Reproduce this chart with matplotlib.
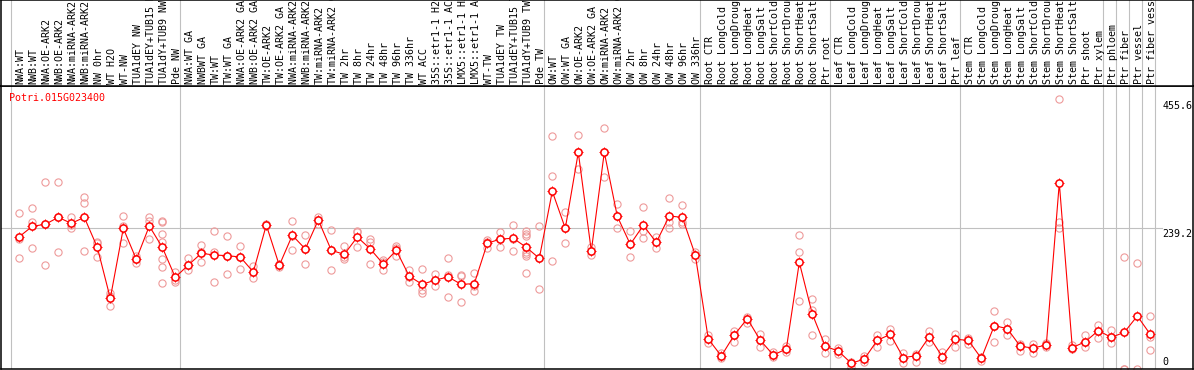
import matplotlib
matplotlib.use("Agg")
import matplotlib.pyplot as plt


# ---- data ----
gene = "Potri.015G023400"

labels = [
    "NWA:WT", "NWB:WT", "NWA:OE-ARK2", "NWB:OE-ARK2", "NWA:miRNA-ARK2",
    "NWB:miRNA-ARK2", "NW 0hr", "WT H2O", "WT-NW", "TUA1dEY NW",
    "TUA1dEY+TUB15 NW", "TUA1dY+TUB9 NW", "Pde NW",
    "NWA:WT GA", "NWBWT GA", "TW:WT", "TW:WT GA", "NWA:OE-ARK2 GA",
    "NWB:OE-ARK2 GA", "TW:OE-ARK2", "TW:OE-ARK2 GA", "NWA:miRNA-ARK2 GA",
    "NWB:miRNA-ARK2 GA", "TW:miRNA-ARK2", "TW:miRNA-ARK2 GA", "TW 2hr",
    "TW 8hr", "TW 24hr", "TW 48hr", "TW 96hr", "TW 336hr", "WT ACC",
    "35S::etr1-1 H2O", "35S::etr1-1 ACC", "LMX5::etr1-1 H2O",
    "LMX5::etr1-1 ACC", "WT-TW", "TUA1dEY TW", "TUA1dEY+TUB15 TW",
    "TUA1dY+TUB9 TW", "Pde TW",
    "OW:WT", "OW:WT GA", "OW:OE-ARK2", "OW:OE-ARK2 GA", "OW:miRNA-ARK2",
    "OW:miRNA-ARK2 GA", "OW 2hr", "OW 8hr", "OW 24hr", "OW 48hr", "OW 96hr",
    "OW 336hr",
    "Root CTR", "Root LongCold", "Root LongDrought", "Root LongHeat",
    "Root LongSalt", "Root ShortCold", "Root ShortDrought", "Root ShortHeat",
    "Root ShortSalt", "Ptr root",
    "Leaf CTR", "Leaf LongCold", "Leaf LongDrought", "Leaf LongHeat",
    "Leaf LongSalt", "Leaf ShortCold", "Leaf ShortDrought", "Leaf ShortHeat",
    "Leaf ShortSalt", "Ptr leaf",
    "Stem CTR", "Stem LongCold", "Stem LongDrought", "Stem LongHeat",
    "Stem LongSalt", "Stem ShortCold", "Stem ShortDrought", "Stem ShortHeat",
    "Stem ShortSalt", "Ptr shoot", "Ptr xylem",
    "Ptr phloem", "Ptr fiber", "Ptr vessel", "Ptr fiber vessel",
]

means = [
    223.7, 241.2, 244.6, 256.4, 246.2, 256.4, 205.7, 119.5, 237.8, 185.4,
    241.7, 205.7, 155.0, 175.8, 195.5, 192.7, 191.6, 189.3, 164.0, 243.4,
    175.2, 226.0, 202.9, 251.9, 200.6, 193.8, 223.1, 202.9, 177.5, 200.6,
    156.7, 143.1, 150.5, 155.5, 143.1, 144.3, 212.4, 219.8, 220.9, 205.7,
    187.1, 300.3, 237.8, 366.3, 199.5, 366.3, 258.1, 210.7, 242.9, 214.1,
    258.6, 256.4, 192.7, 50.7, 22.0, 57.5, 85.1, 48.5, 23.7, 33.8,
    180.3, 93.0, 38.3, 30.4, 9.6, 16.9, 48.5, 58.6, 19.2, 22.5,
    54.7, 20.8, 50.2, 48.5, 18.0, 73.3, 68.2, 38.3, 35.5, 40.6,
    314.5, 36.1, 46.2, 64.8, 53.5, 62.0, 89.6, 58.6,
]

replicates = [
    [263.2, 219.8, 187.1], [271.6, 247.9, 204.0], [316.7, 244.6, 175.2],
    [315.6, 256.4, 197.2], [257.0, 243.4, 238.9], [290.8, 280.1, 198.9],
    [215.3, 212.5, 189.3], [127.9, 124.0, 106.5], [258.7, 242.3, 212.4],
    [191.6, 186.0, 178.6], [257.0, 250.2, 219.8],
    [250.2, 247.9, 227.7, 214.1, 186.0, 171.9, 144.8],
    [164.5, 150.5, 147.6], [188.2, 175.8, 167.4], [209.6, 198.4, 180.3],
    [233.3, 198.4, 146.5], [224.3, 191.6, 160.0], [207.4, 189.3, 168.5],
    [174.1, 164.5, 153.3], [244.6, 243.4, 241.2], [176.9, 175.2, 173.0],
    [250.2, 225.4, 201.2], [226.5, 202.9, 176.9], [257.5, 251.9, 244.6],
    [234.4, 200.6, 166.8], [207.4, 189.9, 186.0], [233.3, 231.0, 206.8],
    [219.8, 214.1, 176.9], [184.3, 181.4, 167.9], [207.4, 204.0, 191.6],
    [167.4, 156.1, 146.5], [169.1, 133.6, 127.9], [160.0, 150.5, 139.7],
    [187.6, 158.9, 121.7], [158.9, 156.7, 112.7], [161.7, 139.7, 132.4],
    [218.1, 215.3, 205.1], [231.6, 219.8, 206.8], [243.4, 219.2, 200.0],
    [233.9, 228.2, 224.8, 198.4, 194.4, 191.0, 161.7],
    [241.7, 187.1, 134.7], [393.3, 325.7, 182.0], [266.0, 237.8, 212.4],
    [394.8, 366.3, 337.5], [206.8, 200.0, 192.7], [406.8, 366.3, 324.0],
    [278.4, 258.1, 237.8], [233.3, 210.7, 188.8], [273.3, 233.3, 222.0],
    [223.7, 214.1, 205.1], [288.5, 247.9, 238.9], [277.2, 247.9, 244.6],
    [198.4, 192.7, 186.0], [57.5, 50.7, 43.4], [26.5, 22.0, 19.2],
    [64.2, 57.5, 46.2], [87.3, 84.0, 77.2], [58.6, 48.5, 37.2],
    [29.3, 23.7, 20.8], [39.4, 33.8, 28.2], [226.0, 197.2, 115.0],
    [117.8, 99.7, 57.5], [50.7, 38.3, 26.5], [34.9, 30.4, 25.9],
    [12.4, 9.6, 3.9], [22.5, 16.9, 12.4], [57.5, 48.5, 37.2],
    [67.6, 58.6, 47.3], [27.0, 19.2, 10.1], [25.9, 22.5, 11.3],
    [64.2, 54.7, 46.2], [29.3, 20.8, 14.7], [59.7, 50.2, 37.8],
    [51.8, 48.5, 42.8], [20.8, 18.0, 14.1], [97.5, 73.3, 45.1],
    [78.9, 68.2, 57.5], [41.7, 38.3, 30.4], [42.8, 35.5, 27.6],
    [44.0, 41.7, 37.2], [455.6, 249.1, 238.9], [40.6, 36.1, 33.8],
    [57.5, 46.2, 37.8], [74.4, 64.8, 51.8], [65.9, 53.5, 44.5],
    [188.8, 0.0, 0.0], [178.6, 0.0], [89.6, 54.7, 31.6],
]

# first column of every tissue / experiment block
group_starts = [0, 13, 41, 53, 63, 73, 84, 85, 86, 87]
ytick_vals = [0, 239.2, 455.6]
ytick_text = ["0", "239.2", "455.6"]
y_top = 478.4

# ---- layout (pixel based) ----
W, H = 1194, 370
MONO = "DejaVu Sans Mono"
FS = 7.2
GRID = "#c0c0c0"
RED = "#ff0000"
PINK = "#ee9a9a"


def px_box(x0, y0, x1, y1):
    return [x0 / W, 1 - y1 / H, (x1 - x0) / W, (y1 - y0) / H]


fig = plt.figure(figsize=(W / 100, H / 100), dpi=100)
ax = fig.add_axes(px_box(1, 86, 1193, 369))
lab = fig.add_axes(px_box(1, 0, 1193, 86))

x0_px, step_px = 19.3, 13.0
xlim = (-(x0_px - 1) / step_px, (1193 - x0_px) / step_px)

for a in (ax, lab):
    a.set_xlim(*xlim)
    a.set_xticks([])
    a.set_yticks([])
    for sp in a.spines.values():
        sp.set_linewidth(1.1)
        sp.set_color("black")

ax.set_ylim(0, y_top)
lab.set_ylim(0, 1)

# group separators
seps = [s - 0.64 for s in group_starts] + [len(labels) - 1 + 0.36]
for xs in seps:
    ax.axvline(xs, color=GRID, lw=0.8, zorder=1)
    lab.axvline(xs, color=GRID, lw=0.8, zorder=1)

# mid grid line
ax.axhline(ytick_vals[1], xmin=0, xmax=0.974, color=GRID, lw=0.8, zorder=1)

# replicates
for i, vals in enumerate(replicates):
    ax.plot([i] * len(vals), vals, ls="none", marker="o", ms=5.2,
            mfc="none", mec=PINK, mew=0.8, zorder=2)

# mean line
xs = list(range(len(means)))
ax.plot(xs, means, color=RED, lw=0.8, zorder=3)
ax.plot(xs, means, ls="none", marker="+", ms=7.0, mec=RED, mew=0.7, zorder=4)
ax.plot(xs, means, ls="none", marker="o", ms=5.2, mfc="white", mec=RED,
        mew=1.1, zorder=5)

# value labels on the right
ytr = ax.get_yaxis_transform()
for v, t in zip(ytick_vals, ytick_text):
    if v == 0:
        ax.text(0.9745, v + 3, t, transform=ytr, ha="left", va="bottom",
                family=MONO, fontsize=FS, color="black")
    else:
        ax.text(0.9745, v - 2, t, transform=ytr, ha="left", va="top",
                family=MONO, fontsize=FS, color="black")

ax.text(0.0067, 0.958, gene, transform=ax.transAxes, ha="left", va="center",
        family=MONO, fontsize=FS, color=RED)

# rotated column labels
for i, t in enumerate(labels):
    lab.text(i + 0.12, 0.025, t, rotation=90, ha="center", va="bottom",
             family=MONO, fontsize=FS, color="black")

fig.savefig("out.png", dpi=100)
